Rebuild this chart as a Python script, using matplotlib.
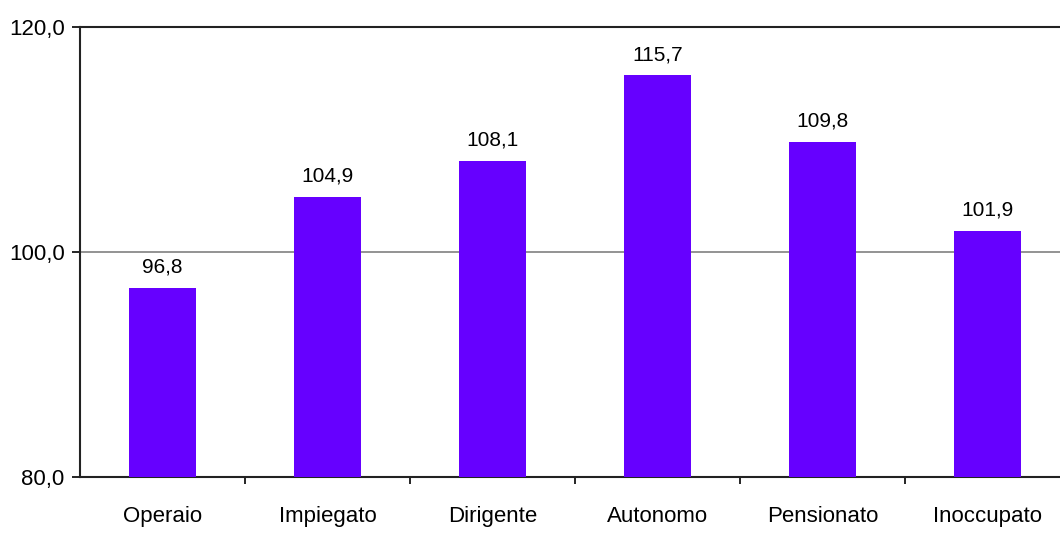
import matplotlib.pyplot as plt
import numpy as np

plt.rcParams['font.family'] = ['Liberation Sans', 'DejaVu Sans']

categorie = ['Operaio', 'Impiegato', 'Dirigente', 'Autonomo', 'Pensionato', 'Inoccupato']
valori = [96.8, 104.9, 108.1, 115.7, 109.8, 101.9]
y_ticks = [80, 100, 120]


def virgola(v):
    return f'{v:.1f}'.replace('.', ',')


fig = plt.figure(figsize=(10.6, 5.44), dpi=100)
ax = fig.add_axes([80 / 1060, 1 - 477 / 544, 990 / 1060, 450 / 544])

x = np.arange(len(categorie))
bars = ax.bar(x, valori, width=0.41, color='#6600FF', zorder=3)

ax.set_xlim(-0.5, len(categorie) - 0.5)
ax.set_ylim(80, 120)
ax.set_yticks(y_ticks)
ax.set_yticklabels([virgola(v) for v in y_ticks], fontsize=16)
ax.axhline(100, color='#808080', linewidth=1.2, zorder=1)

ax.set_xticks(x)
ax.set_xticklabels(categorie, fontsize=16)
ax.tick_params(axis='x', length=0, pad=21)
ax.set_xticks(np.arange(len(categorie)) + 0.5, minor=True)
ax.tick_params(axis='x', which='minor', length=5, width=1.2, direction='out')
ax.tick_params(axis='y', length=6, width=1.2, direction='out', pad=5)

for s in ['left', 'bottom', 'top']:
    ax.spines[s].set_linewidth(1.5)
    ax.spines[s].set_color('#222222')
ax.spines['right'].set_visible(False)

for bar, v in zip(bars, valori):
    ax.annotate(virgola(v), (bar.get_x() + bar.get_width() / 2, v),
                xytext=(0, 8), textcoords='offset points',
                ha='center', va='bottom', fontsize=15)

plt.savefig('out.png', dpi=100)
